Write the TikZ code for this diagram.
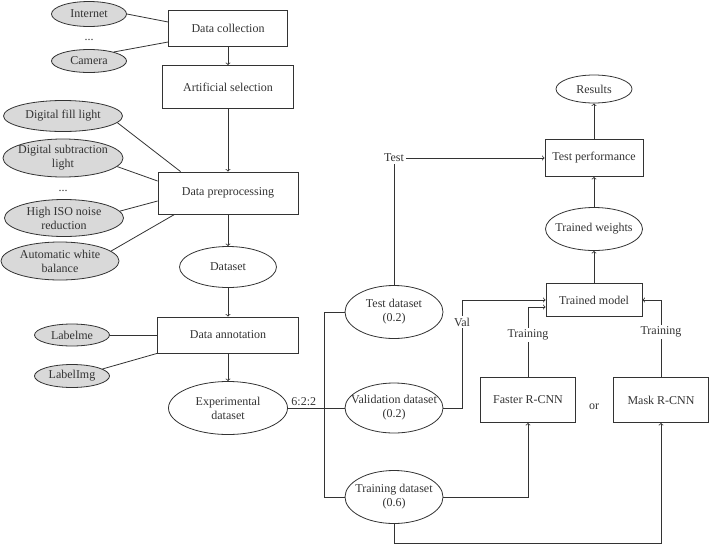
\documentclass[tikz,border=0pt]{standalone}
\usepackage{fontspec}
\setmainfont{Liberation Serif}
\usetikzlibrary{shapes.geometric}
\definecolor{ink}{RGB}{51,51,51}
\definecolor{side}{RGB}{217,217,217}
\newcommand{\lw}{0.8pt}

\begin{document}
\begin{tikzpicture}[x = 1pt, y = -1pt, font = \fontsize{12}{14}\selectfont, text = ink,
  box/.style = {draw = ink, line width = \lw, rectangle, inner sep = 0pt},
  oval/.style = {draw = ink, line width = \lw, ellipse, inner xsep = -30pt, inner ysep = -30pt, align = center},
  grey/.style = {oval, fill = side},
  lbl/.style = {inner sep = 2pt},
  link/.style = {draw = ink, line width = \lw},
  flow/.style = {link, ->}]
\useasboundingbox (0,0) rectangle (709,544);

\node [grey, minimum width = 75pt, minimum height = 25pt] (inet) at (89,14) {Internet};
\node (more1) at (89,40) {...};
\node [grey, minimum width = 75pt, minimum height = 23pt] (cam) at (89,61) {Camera};
\node [box, minimum width = 119pt, minimum height = 36pt] (dc) at (228,28) {Data collection};
\node [box, minimum width = 131pt, minimum height = 43pt] (as) at (228,87) {Artificial selection};

\node [grey, minimum width = 119pt, minimum height = 31pt] (fl) at (63,116) {Digital fill light};
\node [grey, minimum width = 120pt, minimum height = 38pt] (sub) at (63,158) {Digital subtraction\\light};
\node (more2) at (63,191) {...};
\node [grey, minimum width = 119pt, minimum height = 37pt] (iso) at (64,218) {High ISO noise\\reduction};
\node [grey, minimum width = 118pt, minimum height = 38pt] (awb) at (60,261) {Automatic white\\balance};
\node [box, minimum width = 140pt, minimum height = 42pt] (dp) at (228,193) {Data preprocessing};
\node [oval, minimum width = 97pt, minimum height = 41pt] (dset) at (228,267) {Dataset};

\node [grey, minimum width = 75pt, minimum height = 22pt] (lm) at (72,335) {Labelme};
\node [grey, minimum width = 75pt, minimum height = 23pt] (li) at (72,376) {LabelImg};
\node [box, minimum width = 141pt, minimum height = 36pt] (da) at (228,335) {Data annotation};
\node [oval, minimum width = 119pt, minimum height = 53pt] (exp) at (228,408) {Experimental\\dataset};

\node [oval, minimum width = 98pt, minimum height = 53pt] (tds) at (394,312) {Test dataset\\(0.2)};
\node [oval, minimum width = 98pt, minimum height = 50pt] (val) at (394,408) {Validation dataset\\(0.2)};
\node [oval, minimum width = 98pt, minimum height = 53pt] (trn) at (394,497) {Training dataset\\(0.6)};

\node [oval, minimum width = 76pt, minimum height = 28pt] (res) at (594,89) {Results};
\node [box, minimum width = 98pt, minimum height = 37pt] (tp) at (594,158) {Test performance};
\node [oval, minimum width = 97pt, minimum height = 43pt] (tw) at (594,229) {Trained weights};
\node [box, minimum width = 96pt, minimum height = 33pt] (tm) at (594,300) {Trained model};
\node [box, minimum width = 95pt, minimum height = 45pt] (fr) at (528,400) {Faster R-CNN};
\node [box, minimum width = 95pt, minimum height = 45pt] (mr) at (661,400) {Mask R-CNN};
\node (orlbl) at (594,407) {or};

\node [lbl] (testlbl) at (394,158) {Test};
\node [lbl] (vallbl) at (462,322) {Val};
\node [lbl] (trlbl1) at (528,335) {Training};
\node [lbl] (trlbl2) at (661,332) {Training};

\draw [link] (inet.east) -- ([yshift = 6pt]dc.west);
\draw [link] (cam.20) -- ([yshift = -14pt]dc.west);
\draw [flow] (dc) -- (as);
\draw [flow] (as) -- (dp);
\draw [link] (fl.-7) -- ([xshift = 23pt]dp.north west);
\draw [link] (sub.-9) -- ([yshift = 12pt]dp.west);
\draw [link] (iso.7) -- ([yshift = -8pt]dp.west);
\draw [link] (awb.11) -- ([xshift = 17pt]dp.south west);
\draw [flow] (dp) -- (dset);
\draw [flow] (dset) -- (da);
\draw [link] (lm.east) -- (da.west);
\draw [link] (li.13) -- (da.south west);
\draw [flow] (da) -- (exp);

\draw [link] (exp.east) -- node [lbl, above, pos = 0.28] {6:2:2} (val.west);
\draw [link] (tds.west) -- ++(-20,0) |- (trn.west);
\draw [link] (tds.north) -- (testlbl.south);
\draw [flow] (testlbl.east) -- (tp.west);
\draw [link] (val.east) -| (vallbl.south);
\draw [flow] (vallbl.north) |- (tm.west);
\draw [link] (fr.north) -- (trlbl1.south);
\draw [flow] (trlbl1.north) |- ([yshift = -7pt]tm.west);
\draw [link] (mr.north) -- (trlbl2.south);
\draw [flow] (trlbl2.north) |- (tm.east);
\draw [flow] (trn.east) -| (fr.south);
\draw [flow] (trn.south) -- ++(0,19) -| (mr.south);

\draw [flow] (tm) -- (tw);
\draw [flow] (tw) -- (tp);
\draw [flow] (tp) -- (res);
\end{tikzpicture}
\end{document}
